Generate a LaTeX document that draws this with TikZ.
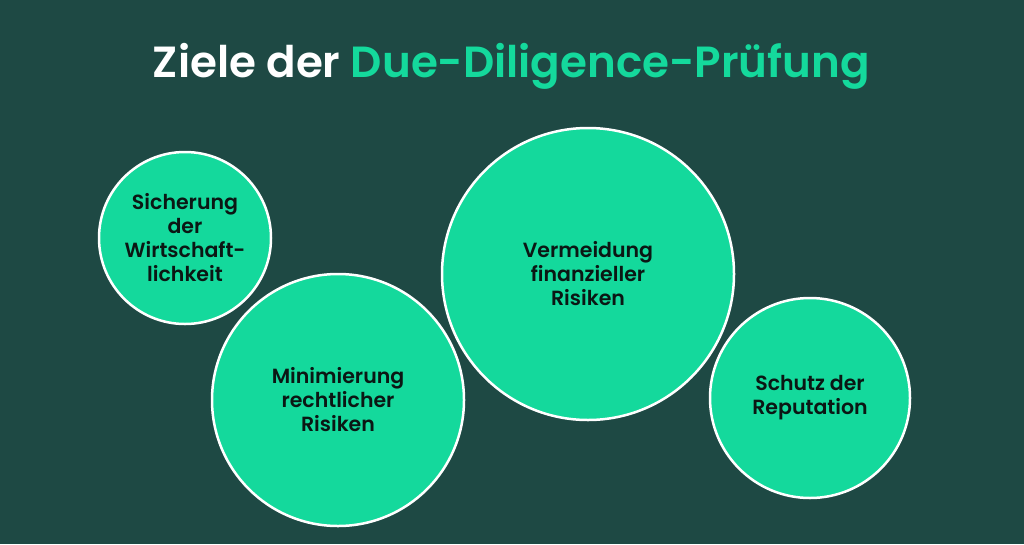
\documentclass[tikz,border=0pt]{standalone}
\usepackage{fontspec}
\setmainfont{Poppins}
\newfontfamily\bubblefont{Poppins SemiBold}
\definecolor{bgdark}{HTML}{1E4944}
\definecolor{mint}{HTML}{14D99C}
\definecolor{inkdark}{HTML}{0B1714}
\begin{document}
\begin{tikzpicture}[x=1pt,y=-1pt,
    goal/.style={circle, draw=white, line width=2.5pt, fill=mint,
      text=inkdark, align=center, inner sep=0pt,
      font=\bubblefont\fontsize{20.5}{24}\selectfont}]
    \fill[bgdark] (0,0) rectangle (1024,544);
    \useasboundingbox (0,0) rectangle (1024,544);
    \node[anchor=base, font=\bubblefont] (title) at (511.5,77)
      {\resizebox{717pt}{!}{\textcolor{white}{Ziele der} \textcolor{mint}{Due-Diligence-Prüfung}}};
    \node[goal, minimum size=172pt] (econ) at (185,238)
      {Sicherung\\der\\Wirtschaft-\\lichkeit};
    \node[goal, minimum size=252pt] (legal) at (338,400)
      {Minimierung\\rechtlicher\\Risiken};
    \node[goal, minimum size=292pt] (finance) at (588,274)
      {Vermeidung\\finanzieller\\Risiken};
    \node[goal, minimum size=200pt] (repute) at (810,398)
      {Schutz der\\Reputation};
\end{tikzpicture}
\end{document}
